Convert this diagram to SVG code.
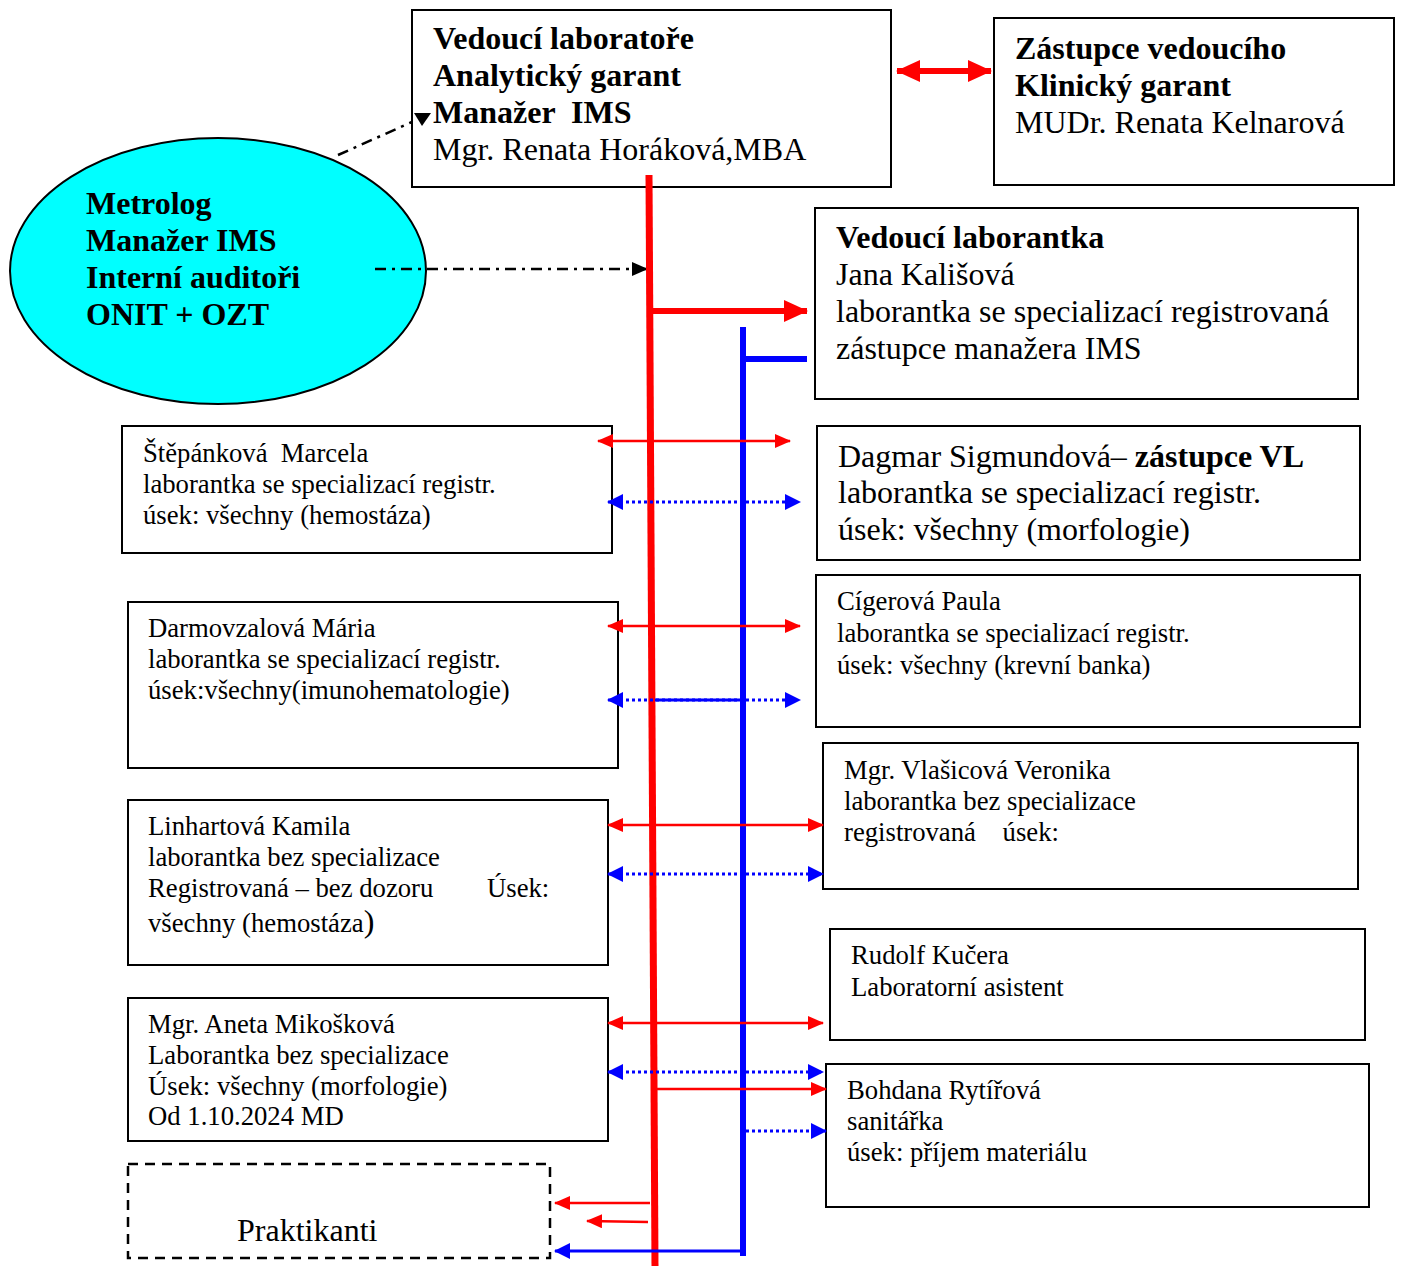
<svg xmlns="http://www.w3.org/2000/svg" width="1401" height="1266" viewBox="0 0 1401 1266">
<style>
text{font-family:"Liberation Serif","Times New Roman",serif;fill:#000;white-space:pre}
.L{font-size:32px}
.S{font-size:26.7px}
.b{font-weight:bold}
.box{fill:#fff;stroke:#000;stroke-width:2}
.dbox{fill:#fff;stroke:#000;stroke-width:2.5;stroke-dasharray:10,7}
.red{stroke:#f00;fill:none}
.blue{stroke:#00f;fill:none}
.dot{stroke-dasharray:3,3}
.dd{stroke:#000;stroke-width:2.5;fill:none;stroke-dasharray:11,6,3,6}
</style>
<defs>
<marker id="rh" markerUnits="userSpaceOnUse" markerWidth="16" markerHeight="14" refX="15" refY="7" orient="auto-start-reverse"><path d="M0,0 L16,7 L0,14 z" fill="#f00"/></marker>
<marker id="bh" markerUnits="userSpaceOnUse" markerWidth="16" markerHeight="16" refX="15" refY="8" orient="auto-start-reverse"><path d="M0,0 L16,8 L0,16 z" fill="#00f"/></marker>
<marker id="rbig" markerUnits="userSpaceOnUse" markerWidth="24" markerHeight="22" refX="23" refY="11" orient="auto-start-reverse"><path d="M0,0 L24,11 L0,22 z" fill="#f00"/></marker>
<marker id="kh" markerUnits="userSpaceOnUse" markerWidth="16" markerHeight="14" refX="15" refY="7" orient="auto"><path d="M0,0 L16,7 L0,14 z" fill="#000"/></marker>
</defs>
<rect width="1401" height="1266" fill="#fff"/>

<g id="n-vedouci-lab">
<rect class="box" x="412" y="10" width="479" height="177"/>
<text class="L b" x="433" y="49">Vedoucí laboratoře</text>
<text class="L b" x="433" y="86">Analytický garant</text>
<text class="L b" x="433" y="123">Manažer  IMS</text>
<text class="L" x="433" y="160">Mgr. Renata Horáková,MBA</text>
</g>

<g id="n-zastupce">
<rect class="box" x="994" y="18" width="400" height="167"/>
<text class="L b" x="1015" y="59">Zástupce vedoucího</text>
<text class="L b" x="1015" y="96">Klinický garant</text>
<text class="L" x="1015" y="133">MUDr. Renata Kelnarová</text>
</g>

<g id="n-metrolog">
<ellipse cx="218" cy="271" rx="208" ry="133" fill="#0ff" stroke="#000" stroke-width="2"/>
<text class="L b" x="86" y="214">Metrolog</text>
<text class="L b" x="86" y="251">Manažer IMS</text>
<text class="L b" x="86" y="288">Interní auditoři</text>
<text class="L b" x="86" y="325">ONIT + OZT</text>
</g>

<g id="n-vedouci-laborantka">
<rect class="box" x="815" y="208" width="543" height="191"/>
<text class="L b" x="836" y="248">Vedoucí laborantka</text>
<text class="L" x="836" y="285">Jana Kališová</text>
<text class="L" x="836" y="322">laborantka se specializací registrovaná</text>
<text class="L" x="836" y="359">zástupce manažera IMS</text>
</g>

<g id="n-sigmundova">
<rect class="box" x="817" y="426" width="543" height="134"/>
<text class="L" x="838" y="467">Dagmar Sigmundová– <tspan class="b">zástupce VL</tspan></text>
<text class="L" x="838" y="503">laborantka se specializací registr.</text>
<text class="L" x="838" y="540">úsek: všechny (morfologie)</text>
</g>

<g id="n-stepankova">
<rect class="box" x="122" y="426" width="490" height="127"/>
<text class="S" x="143" y="462">Štěpánková  Marcela</text>
<text class="S" x="143" y="493">laborantka se specializací registr.</text>
<text class="S" x="143" y="524">úsek: všechny (hemostáza)</text>
</g>

<g id="n-cigerova">
<rect class="box" x="816" y="575" width="544" height="152"/>
<text class="S" x="837" y="610">Cígerová Paula</text>
<text class="S" x="837" y="642">laborantka se specializací registr.</text>
<text class="S" x="837" y="674">úsek: všechny (krevní banka)</text>
</g>

<g id="n-darmovzalova">
<rect class="box" x="128" y="602" width="490" height="166"/>
<text class="S" x="148" y="637">Darmovzalová Mária</text>
<text class="S" x="148" y="668">laborantka se specializací registr.</text>
<text class="S" x="148" y="699">úsek:všechny(imunohematologie)</text>
</g>

<g id="n-vlasicova">
<rect class="box" x="823" y="743" width="535" height="146"/>
<text class="S" x="844" y="779">Mgr. Vlašicová Veronika</text>
<text class="S" x="844" y="810">laborantka bez specializace</text>
<text class="S" x="844" y="841">registrovaná    úsek:</text>
</g>

<g id="n-linhartova">
<rect class="box" x="128" y="800" width="480" height="165"/>
<text class="S" x="148" y="835">Linhartová Kamila</text>
<text class="S" x="148" y="866">laborantka bez specializace</text>
<text class="S" x="148" y="897">Registrovaná – bez dozoru<tspan x="487">Úsek:</tspan></text>
<text class="S" x="148" y="932">všechny (hemostáza<tspan font-size="32px">)</tspan></text>
</g>

<g id="n-kucera">
<rect class="box" x="830" y="929" width="535" height="111"/>
<text class="S" x="851" y="964">Rudolf Kučera</text>
<text class="S" x="851" y="996">Laboratorní asistent</text>
</g>

<g id="n-mikoskova">
<rect class="box" x="128" y="998" width="480" height="143"/>
<text class="S" x="148" y="1033">Mgr. Aneta Mikošková</text>
<text class="S" x="148" y="1064">Laborantka bez specializace</text>
<text class="S" x="148" y="1095">Úsek: všechny (morfologie)</text>
<text class="S" x="148" y="1125">Od 1.10.2024 MD</text>
</g>

<g id="n-rytirova">
<rect class="box" x="826" y="1064" width="543" height="143"/>
<text class="S" x="847" y="1099">Bohdana Rytířová</text>
<text class="S" x="847" y="1130">sanitářka</text>
<text class="S" x="847" y="1161">úsek: příjem materiálu</text>
</g>

<g id="n-praktikanti">
<rect class="dbox" x="128" y="1164" width="422" height="94"/>
<text class="L" x="237" y="1241">Praktikanti</text>
</g>

<g id="connectors">
<!-- dash-dot from ellipse -->
<line class="dd" x1="338" y1="155" x2="412" y2="122"/>
<path d="M414,113 L431,113 L422,126 z" fill="#000"/>
<line class="dd" x1="375" y1="269" x2="647" y2="269" marker-end="url(#kh)"/>

<!-- main verticals -->
<line class="red" stroke-width="7" x1="649" y1="175" x2="655" y2="1266"/>
<line class="blue" stroke-width="6" x1="743" y1="327" x2="743" y2="1256"/>

<!-- top double arrow -->
<line class="red" stroke-width="6" x1="897" y1="71" x2="991" y2="71" marker-start="url(#rbig)" marker-end="url(#rbig)"/>

<!-- to vedouci laborantka -->
<line class="red" stroke-width="6" x1="651" y1="311" x2="807" y2="311" marker-end="url(#rbig)"/>
<line class="blue" stroke-width="6" x1="743" y1="359" x2="807" y2="359"/>

<!-- red thin double arrows -->
<line class="red" stroke-width="2.5" x1="598" y1="441" x2="790" y2="441" marker-start="url(#rh)" marker-end="url(#rh)"/>
<line class="red" stroke-width="2.5" x1="608" y1="626" x2="800" y2="626" marker-start="url(#rh)" marker-end="url(#rh)"/>
<line class="red" stroke-width="2.5" x1="608" y1="825" x2="823" y2="825" marker-start="url(#rh)" marker-end="url(#rh)"/>
<line class="red" stroke-width="2.5" x1="608" y1="1023" x2="823" y2="1023" marker-start="url(#rh)" marker-end="url(#rh)"/>
<line class="red" stroke-width="2.5" x1="652" y1="1089" x2="826" y2="1089" marker-end="url(#rh)"/>
<line class="red" stroke-width="2.5" x1="650" y1="1203" x2="555" y2="1203" marker-end="url(#rh)"/>
<line class="red" stroke-width="2.5" x1="648" y1="1222" x2="587" y2="1221" marker-end="url(#rh)"/>

<!-- blue dotted double arrows -->
<line class="blue dot" stroke-width="3" x1="608" y1="502" x2="800" y2="502" marker-start="url(#bh)" marker-end="url(#bh)"/>
<line class="blue dot" stroke-width="3" x1="608" y1="700" x2="800" y2="700" marker-start="url(#bh)" marker-end="url(#bh)"/>
<line class="blue" stroke-width="3" x1="655" y1="700" x2="743" y2="700"/>
<line class="blue dot" stroke-width="3" x1="608" y1="874" x2="823" y2="874" marker-start="url(#bh)" marker-end="url(#bh)"/>
<line class="blue dot" stroke-width="3" x1="608" y1="1072" x2="823" y2="1072" marker-start="url(#bh)" marker-end="url(#bh)"/>
<line class="blue dot" stroke-width="3" x1="746" y1="1131" x2="826" y2="1131" marker-end="url(#bh)"/>

<!-- blue to praktikanti -->
<line class="blue" stroke-width="3" x1="743" y1="1251" x2="555" y2="1251" marker-end="url(#bh)"/>
</g>
</svg>
